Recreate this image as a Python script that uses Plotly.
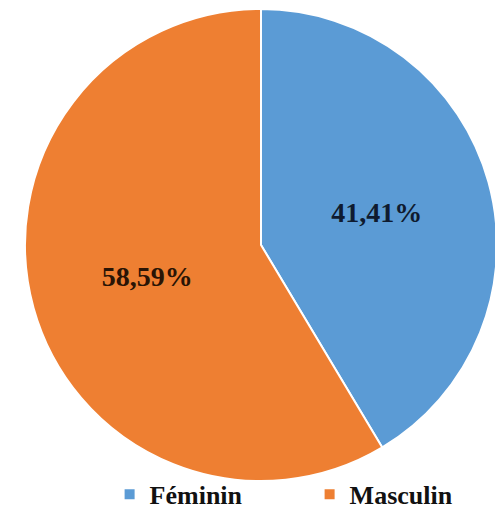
import plotly.graph_objects as go

categories = ["Féminin", "Masculin"]
values = [41.41, 58.59]
label_texts = ["41,41%", "58,59%"]

colors = ["#5B9BD5", "#EE7F32"]
text_colors = ["#0F1B30", "#2A1405"]

fig = go.Figure(go.Pie(
    labels=categories,
    values=values,
    text=label_texts,
    textinfo="text",
    textposition="inside",
    insidetextorientation="horizontal",
    sort=False,
    direction="clockwise",
    rotation=0,
    marker=dict(colors=colors, line=dict(color="white", width=2)),
    textfont=dict(family="Liberation Serif", size=28, color=text_colors, weight="bold"),
    domain=dict(x=[17 / 503, 489 / 503], y=[40 / 513, 512 / 513]),
    hoverinfo="label+percent",
))

fig.update_layout(
    width=503,
    height=513,
    margin=dict(l=0, r=0, t=0, b=0, autoexpand=False),
    paper_bgcolor="white",
    plot_bgcolor="white",
    showlegend=True,
    legend=dict(
        orientation="h",
        x=0.202, xanchor="left",
        y=0.006, yanchor="bottom",
        font=dict(family="Liberation Serif", size=26, color="#111111", weight="bold"),
        entrywidth=155,
        itemwidth=30,
        bgcolor="rgba(0,0,0,0)",
    ),
)

fig.write_html("out.html")
